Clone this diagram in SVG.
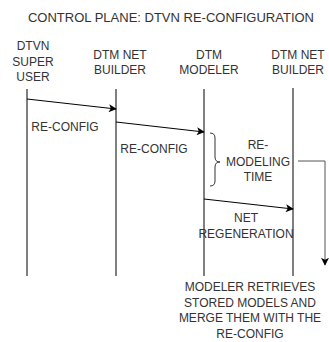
<svg xmlns="http://www.w3.org/2000/svg" width="329" height="342" viewBox="0 0 329 342">
  <defs>
    <style>
      text { font-family: "Liberation Sans", Arial, sans-serif; font-size: 12px; fill: #333; text-anchor: middle; }
      .title { font-size: 13px; }
      .life { stroke: #000; stroke-width: 1; fill: none; }
      .msg { stroke: #000; stroke-width: 1; fill: none; marker-end: url(#arrow); }
      .gray { stroke: #555; stroke-width: 1; fill: none; marker-end: url(#arrow); }
      .brace { stroke: #333; stroke-width: 1; fill: none; }
    </style>
    <marker id="arrow" viewBox="0 0 10 10" refX="9" refY="5" markerWidth="8" markerHeight="8" markerUnits="userSpaceOnUse" orient="auto">
      <path d="M0,0 L10,5 L0,10 L2.5,5 Z" fill="#000"/>
    </marker>
  </defs>
  <rect width="329" height="342" fill="#fff"/>

  <text class="title" x="171" y="21.7">CONTROL PLANE: DTVN RE-CONFIGURATION</text>

  <g id="superuser">
    <text x="33" y="50.3">DTVN</text>
    <text x="33" y="65.8">SUPER</text>
    <text x="33" y="81.3">USER</text>
    <line class="life" x1="27" y1="89" x2="27" y2="276"/>
  </g>
  <g id="netbuilder1">
    <text x="120" y="58.8">DTM NET</text>
    <text x="120" y="74.3">BUILDER</text>
    <line class="life" x1="116" y1="89" x2="116" y2="276"/>
  </g>
  <g id="modeler">
    <text x="209" y="58.8">DTM</text>
    <text x="209" y="74.3">MODELER</text>
    <line class="life" x1="204" y1="89" x2="204" y2="276"/>
  </g>
  <g id="netbuilder2">
    <text x="298" y="58.8">DTM NET</text>
    <text x="298" y="74.3">BUILDER</text>
    <line class="life" x1="293" y1="88" x2="293" y2="276"/>
  </g>

  <g id="connectors">
    <line class="msg" x1="27" y1="99" x2="116" y2="109"/>
    <line class="msg" x1="116" y1="122" x2="204" y2="132"/>
    <line class="msg" x1="204" y1="199" x2="293" y2="209"/>
    <path class="gray" d="M298,161 H325 V265"/>
  </g>

  <g id="brace">
    <path class="brace" d="M210,133 Q215,133 215,138 L215,157 Q215,162 220,162 Q215,162 215,167 L215,181 Q215,186 210,186"/>
  </g>

  <g id="labels">
    <text x="65" y="131.3">RE-CONFIG</text>
    <text x="154" y="153.3">RE-CONFIG</text>
    <text x="258" y="149.3">RE-</text>
    <text x="258" y="165.8">MODELING</text>
    <text x="258" y="181.3">TIME</text>
    <text x="246" y="222.3">NET</text>
    <text x="246" y="238.3">REGENERATION</text>
  </g>

  <g id="note">
    <text x="250" y="291.3">MODELER RETRIEVES</text>
    <text x="250" y="306.8">STORED MODELS AND</text>
    <text x="250" y="322.3">MERGE THEM WITH THE</text>
    <text x="250" y="337.8">RE-CONFIG</text>
  </g>
</svg>
